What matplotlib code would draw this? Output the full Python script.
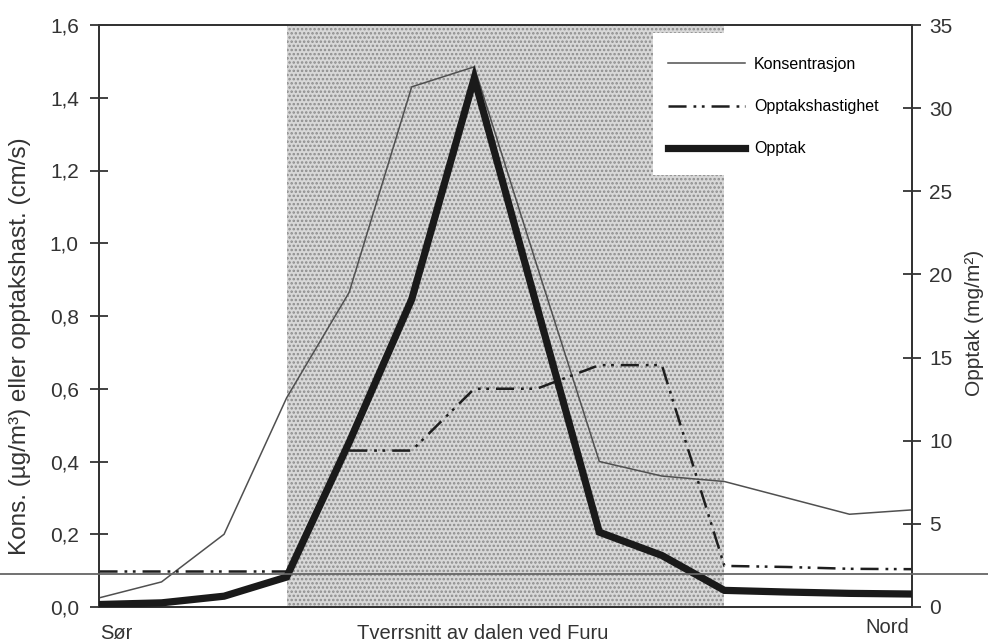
import numpy as np
import matplotlib
matplotlib.use("Agg")
import matplotlib.pyplot as plt
from matplotlib.patches import Rectangle
from matplotlib.transforms import blended_transform_factory

plt.rcParams['font.family'] = ['Liberation Sans', 'DejaVu Sans']
plt.rcParams['lines.scale_dashes'] = False
plt.rcParams['hatch.linewidth'] = 1.2

# ---- data ----
positions = np.arange(14)
konsentrasjon = [0.025, 0.069, 0.20, 0.575, 0.865, 1.43, 1.485, 0.94, 0.40, 0.36, 0.345, 0.30, 0.255, 0.267]
opptakshastighet = [0.10, 0.10, 0.10, 0.10, 0.43, 0.43, 0.60, 0.60, 0.665, 0.665, 0.113, 0.11, 0.105, 0.104]
opptak = [0.15, 0.25, 0.65, 1.8, 9.9, 18.5, 31.8, 18.1, 4.5, 3.1, 1.0, 0.9, 0.82, 0.78]
shade_start, shade_end = 3, 10
gap_after = 3  # dash-dot line is broken between index 3 and 4
reference_level = 0.09

left_ticks = [0.0, 0.2, 0.4, 0.6, 0.8, 1.0, 1.2, 1.4, 1.6]
left_tick_labels = ["0,0", "0,2", "0,4", "0,6", "0,8", "1,0", "1,2", "1,4", "1,6"]
right_ticks = [0, 5, 10, 15, 20, 25, 30, 35]
right_tick_labels = ["0", "5", "10", "15", "20", "25", "30", "35"]

legend_labels = ["Konsentrasjon", "Opptakshastighet", "Opptak"]
left_label = "Kons. (µg/m³) eller opptakshast. (cm/s)"
right_label = "Opptak (mg/m²)"
x_texts = ["Sør", "Tverrsnitt av dalen ved Furu", "Nord"]

# ---- figure ----
fig = plt.figure(figsize=(9.88, 6.43), dpi=100)
ax = fig.add_axes([99/988, 1-607/643, (912-99)/988, (607-25)/643])
ax2 = ax.twinx()

ax.set_xlim(positions[0], positions[-1])
ax.set_ylim(0, 1.6)
ax2.set_ylim(0, 35)

# shaded region
ax.axvspan(shade_start, shade_end, facecolor='#d8d8d8', edgecolor='#8c8c8c',
           hatch='....', linewidth=0, zorder=0)

dash = (0, (13, 5, 2, 4, 2, 5))
l1, = ax.plot(positions, konsentrasjon, color='#505050', lw=1.1, zorder=3)
l2, = ax.plot(positions[:gap_after+1], opptakshastighet[:gap_after+1], color='#1e1e1e',
              lw=1.8, linestyle=dash, zorder=3)
ax.plot(positions[gap_after+1:], opptakshastighet[gap_after+1:], color='#1e1e1e',
        lw=1.8, linestyle=dash, zorder=3)
l3, = ax2.plot(positions, opptak, color='#1a1a1a', lw=5.2, solid_joinstyle='miter', zorder=4)

# horizontal reference line across the whole figure
tr = blended_transform_factory(fig.transFigure, ax2.transData)
ax2.plot([0, 1], [reference_level * 35 / 1.6] * 2, transform=tr, color='#666666',
         lw=1.3, clip_on=False, zorder=5)

# legend box
ax.add_patch(Rectangle(((653-99)/813, (607-175)/582), (900-653)/813, (175-33)/582,
                       transform=ax.transAxes, facecolor='white', edgecolor='none', zorder=2))
leg = ax2.legend([l1, l2, l3], legend_labels, loc='upper left',
                 bbox_to_anchor=((668-99)/813, (607-57)/582), borderaxespad=0,
                 frameon=False, fontsize=11.5, handlelength=4.8, handletextpad=0.6,
                 labelspacing=1.7, borderpad=0)
leg.set_zorder(6)

# ticks
for a in (ax, ax2):
    a.set_xticks([])
    for s in a.spines.values():
        s.set_linewidth(1.3)
        s.set_color('#333333')
ax.set_yticks(left_ticks)
ax.set_yticklabels(left_tick_labels)
ax.tick_params(axis='y', direction='inout', length=13, width=1.3, pad=8,
               labelsize=15, colors='#333333')
ax2.set_yticks(right_ticks)
ax2.set_yticklabels(right_tick_labels)
ax2.tick_params(axis='y', direction='inout', length=13, width=1.3, pad=6,
                labelsize=15, colors='#333333')

ax.set_ylabel(left_label, fontsize=17.5, color='#333333')
ax.yaxis.set_label_coords(-(99-31)/813, (607-346)/582)
ax2.set_ylabel(right_label, fontsize=15, color='#333333')
ax2.yaxis.set_label_coords(1 + (965-912)/813, (607-323)/582)

# x texts
bt = blended_transform_factory(ax.transData, ax.transAxes)
ax.text(positions[0] + 0.02, -0.045, x_texts[0], transform=bt, ha='left', va='center',
        fontsize=14.5, color='#333333')
ax.text(6.14, -0.045, x_texts[1], transform=bt, ha='center', va='center',
        fontsize=14.5, color='#333333')
ax.text(12.6, -0.036, x_texts[2], transform=bt, ha='center', va='center',
        fontsize=14.5, color='#333333')

fig.savefig("out.png", dpi=100)
